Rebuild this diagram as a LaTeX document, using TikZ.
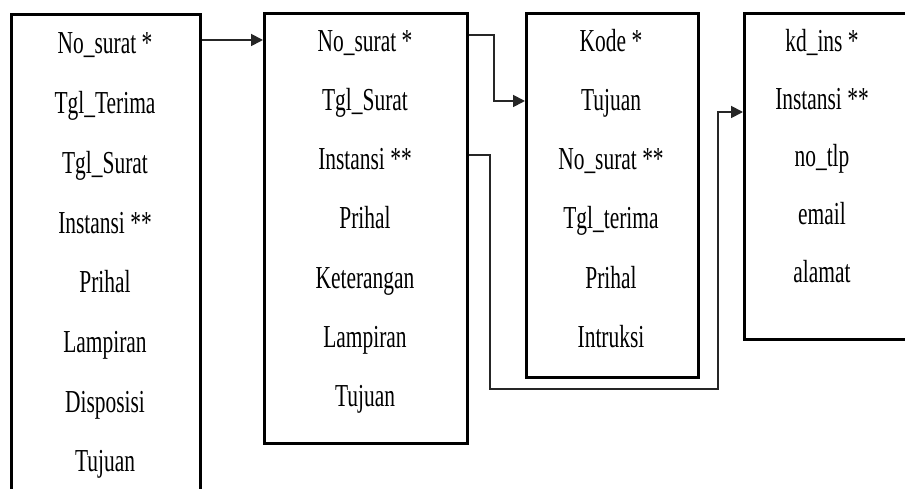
\documentclass[tikz,border=0pt]{standalone}
\usepackage{fontspec}
\setmainfont[FakeStretch=0.67]{Liberation Serif}
\usetikzlibrary{arrows.meta}

\begin{document}
\begin{tikzpicture}[x=1pt,y=-1pt,
    tabel/.style={draw,line width=2.6pt,anchor=north west,inner sep=0pt},
    isi/.style={anchor=base,font=\fontsize{32}{34}\selectfont,inner sep=0pt},
    rel/.style={draw=black!85,line width=1.8pt,-{Triangle[length=12pt,width=12pt]}}]
\useasboundingbox (0,0) rectangle (905,489);

% tabel
\node[tabel,minimum width=189pt,minimum height=600pt] (masuk) at (10,13) {};
\node[tabel,minimum width=203pt,minimum height=430pt] (keluar) at (263,12) {};
\node[tabel,minimum width=172pt,minimum height=364pt] (disp) at (525,12) {};
\node[tabel,minimum width=250pt,minimum height=326pt] (inst) at (743,12) {};

% field
\foreach \f [count=\i] in {No\_surat *,Tgl\_Terima,Tgl\_Surat,Instansi **,Prihal,Lampiran,Disposisi,Tujuan}
  \node[isi] (m\i) at (105,54+59.7*\i-59.7) {\f};
\foreach \f [count=\i] in {No\_surat *,Tgl\_Surat,Instansi **,Prihal,Keterangan,Lampiran,Tujuan}
  \node[isi] (k\i) at (365,52+59*\i-59) {\f};
\foreach \f [count=\i] in {Kode *,Tujuan,No\_surat **,Tgl\_terima,Prihal,Intruksi}
  \node[isi] (d\i) at (611,52+59*\i-59) {\f};
\foreach \f [count=\i] in {kd\_ins *,Instansi **,no\_tlp,email,alamat}
  \node[isi] (n\i) at (822,52+57.5*\i-57.5) {\f};

% relasi
\draw[rel] (masuk.east |- 0,40) -- (keluar.west |- 0,40);
\draw[rel] (keluar.east |- 0,35) -| (494,101) -- (disp.west |- 0,101);
\draw[rel] (keluar.east |- 0,155) -| (490,389) -| (718,112) -- (inst.west |- 0,112);
\end{tikzpicture}
\end{document}
